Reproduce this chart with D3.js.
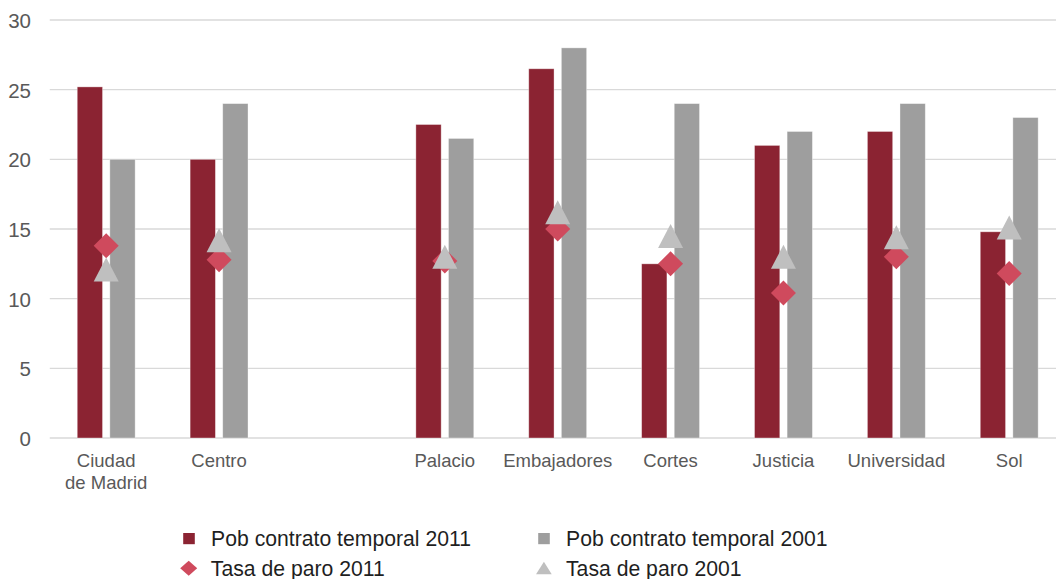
<!DOCTYPE html>
<html>
<head>
<meta charset="utf-8">
<script src="https://cdn.jsdelivr.net/npm/d3@7"></script>
<style>
  html, body { margin: 0; padding: 0; background: #fff; }
  svg { display: block; font-family: "Liberation Sans", Arial, sans-serif; }
</style>
</head>
<body>
<svg id="chart" width="1056" height="579"></svg>
<script>
// Categories (one empty slot separates the city and district totals from the barrios)
const categories = ["Ciudad\nde Madrid", "Centro", "", "Palacio", "Embajadores", "Cortes", "Justicia", "Universidad", "Sol"];
const contrato2011 = [25.2, 20.0, null, 22.5, 26.5, 12.5, 21.0, 22.0, 14.8];
const contrato2001 = [20.0, 24.0, null, 21.5, 28.0, 24.0, 22.0, 24.0, 23.0];
const paro2011 = [13.8, 12.8, null, 12.7, 15.0, 12.5, 10.4, 13.0, 11.8];
const paro2001 = [12.1, 14.2, null, 13.0, 16.2, 14.5, 13.0, 14.4, 15.1];
const yTicks = [0, 5, 10, 15, 20, 25, 30];
const seriesNames = ["Pob contrato temporal 2011", "Pob contrato temporal 2001", "Tasa de paro 2011", "Tasa de paro 2001"];

const colors = {
  bar2011: "#8B2332",
  bar2001: "#9E9E9E",
  paro2011: "#CF4A5D",
  paro2001: "#BFBFBF"
};

const svg = d3.select("#chart");

const x = d3.scaleBand().domain(categories).range([49.75, 1065.65]).paddingInner(0).paddingOuter(0);
const y = d3.scaleLinear().domain([0, 30]).range([438, 20]);
const barKeys = ["2011", "2001"];
const xSub = d3.scaleBand().domain(barKeys).range([-28.95, 28.95]).paddingInner(0.224);

// Gridlines
svg.append("g")
  .selectAll("line")
  .data(yTicks)
  .join("line")
  .attr("x1", x.range()[0])
  .attr("x2", x.range()[1])
  .attr("y1", d => y(d))
  .attr("y2", d => y(d))
  .attr("stroke", "#D9D9D9")
  .attr("stroke-width", 1.3);

// Y axis labels
const yAxis = d3.axisLeft(y).tickValues(yTicks).tickSize(0).tickPadding(0);
const gy = svg.append("g").attr("transform", "translate(31,0)").call(yAxis);
gy.select(".domain").remove();
gy.selectAll("text")
  .attr("font-family", "'Liberation Sans', Arial, sans-serif")
  .attr("font-size", 20.5)
  .attr("fill", "#595959")
  .attr("dy", "0.36em");

// Bars
const rows = categories.map((c, i) => ({
  cat: c,
  b2011: contrato2011[i],
  b2001: contrato2001[i],
  p2011: paro2011[i],
  p2001: paro2001[i]
})).filter(d => d.b2011 !== null);

const cx = d => x(d.cat) + x.bandwidth() / 2;

const barG = svg.append("g");
barG.selectAll("rect.b2011")
  .data(rows)
  .join("rect")
  .attr("class", "b2011")
  .attr("x", d => cx(d) + xSub("2011"))
  .attr("width", xSub.bandwidth())
  .attr("y", d => y(d.b2011))
  .attr("height", d => y(0) - y(d.b2011))
  .attr("fill", colors.bar2011)
  .attr("stroke", "#ffffff")
  .attr("stroke-opacity", 0.45)
  .attr("stroke-width", 0.8);

barG.selectAll("rect.b2001")
  .data(rows)
  .join("rect")
  .attr("class", "b2001")
  .attr("x", d => cx(d) + xSub("2001"))
  .attr("width", xSub.bandwidth())
  .attr("y", d => y(d.b2001))
  .attr("height", d => y(0) - y(d.b2001))
  .attr("fill", colors.bar2001)
  .attr("stroke", "#ffffff")
  .attr("stroke-opacity", 0.45)
  .attr("stroke-width", 0.8);

// Marker shapes
function diamondPath(w, h) {
  return `M0,${-h / 2}L${w / 2},0L0,${h / 2}L${-w / 2},0Z`;
}
function trianglePath(w, h) {
  return `M0,${-h / 2}L${w / 2},${h / 2}L${-w / 2},${h / 2}Z`;
}

// Unemployment rate markers (2011 diamonds below, 2001 triangles on top)
svg.append("g")
  .selectAll("path")
  .data(rows)
  .join("path")
  .attr("d", diamondPath(25, 25))
  .attr("transform", d => `translate(${cx(d)},${y(d.p2011)})`)
  .attr("fill", colors.paro2011);

svg.append("g")
  .selectAll("path")
  .data(rows)
  .join("path")
  .attr("d", trianglePath(25, 24))
  .attr("transform", d => `translate(${cx(d)},${y(d.p2001)})`)
  .attr("fill", colors.paro2001);

// Category labels
const catG = svg.append("g");
categories.forEach(c => {
  if (!c) return;
  const lines = c.split("\n");
  const t = catG.append("text")
    .attr("x", x(c) + x.bandwidth() / 2)
    .attr("y", y(0) + 29.3)
    .attr("text-anchor", "middle")
    .attr("font-size", 18.5)
    .attr("fill", "#595959");
  lines.forEach((ln, k) => {
    t.append("tspan")
      .attr("x", x(c) + x.bandwidth() / 2)
      .attr("dy", k === 0 ? 0 : 22)
      .text(ln);
  });
});

// Legend
const legendItems = [
  { name: seriesNames[0], shape: "square", color: colors.bar2011, mx: 189, my: 538.6 },
  { name: seriesNames[1], shape: "square", color: colors.bar2001, mx: 544, my: 538.6 },
  { name: seriesNames[2], shape: "diamond", color: colors.paro2011, mx: 188.7, my: 568.2 },
  { name: seriesNames[3], shape: "triangle", color: colors.paro2001, mx: 543.9, my: 568 }
];
const lg = svg.append("g");
legendItems.forEach(it => {
  let d;
  if (it.shape === "square") d = `M-5.8,-5.6h11.6v11.2h-11.6Z`;
  else if (it.shape === "diamond") d = diamondPath(17, 15);
  else d = trianglePath(15.7, 12.6);
  lg.append("path")
    .attr("d", d)
    .attr("transform", `translate(${it.mx},${it.my})`)
    .attr("fill", it.color);
  lg.append("text")
    .attr("x", it.mx + 22.1)
    .attr("y", it.my + 7.5)
    .attr("font-size", 21.2)
    .attr("fill", "#1F1F1F")
    .text(it.name);
});
</script>
</body>
</html>
